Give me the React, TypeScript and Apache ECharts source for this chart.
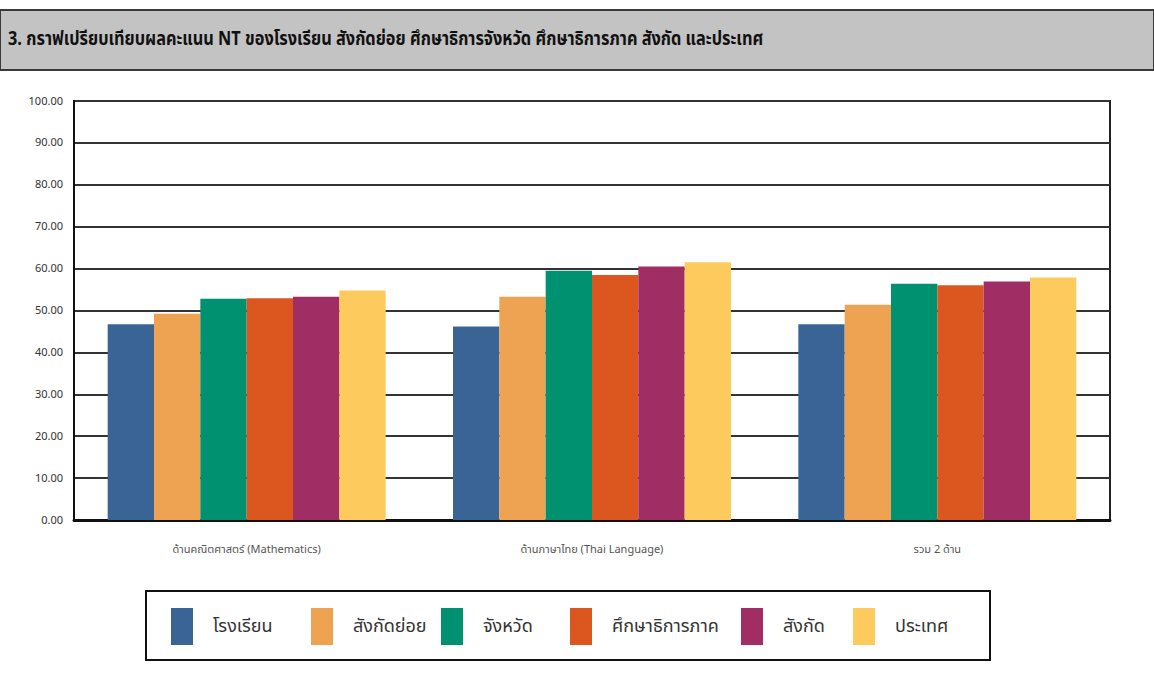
import React, { useEffect, useRef } from "react";
import * as echarts from "echarts";

const title =
  "3. กราฟเปรียบเทียบผลคะแนน NT ของโรงเรียน สังกัดย่อย ศึกษาธิการจังหวัด ศึกษาธิการภาค สังกัด และประเทศ";
const categories = ["ด้านคณิตศาสตร์ (Mathematics)", "ด้านภาษาไทย (Thai Language)", "รวม 2 ด้าน"];
const seriesNames = ["โรงเรียน", "สังกัดย่อย", "จังหวัด", "ศึกษาธิการภาค", "สังกัด", "ประเทศ"];
const school = [46.7, 46.2, 46.7];
const subAffil = [49.2, 53.3, 51.4];
const province = [52.8, 59.5, 56.4];
const region = [52.9, 58.5, 56.0];
const affil = [53.3, 60.5, 56.9];
const country = [54.8, 61.5, 57.9];
const seriesValues = [school, subAffil, province, region, affil, country];
const colors = ["#3a6496", "#eea353", "#009170", "#dc5720", "#a02d63", "#fdcb5d"];
const legendLefts = [171, 311, 441, 570, 741, 853];

const FONT = "'Liberation Sans Narrow', 'Noto Sans Thai', 'Noto Sans', sans-serif";

export default function App() {
  const ref = useRef<HTMLDivElement>(null);
  useEffect(() => {
    if (!ref.current) return;
    const chart = echarts.init(ref.current, undefined, { renderer: "svg" });
    chart.setOption({
      animation: false,
      backgroundColor: "#ffffff",
      textStyle: { fontFamily: FONT },
      grid: {
        left: 74,
        right: 44,
        top: 101,
        bottom: 155,
        show: true,
        borderColor: "#222",
        borderWidth: 2,
        backgroundColor: "transparent",
      },
      xAxis: {
        type: "category",
        data: categories,
        axisLine: { lineStyle: { color: "#111", width: 3 } },
        axisTick: { show: false },
        axisLabel: { color: "#555", fontSize: 11, margin: 24, fontFamily: FONT },
      },
      yAxis: {
        type: "value",
        min: 0,
        max: 100,
        interval: 10,
        axisLine: { show: true, lineStyle: { color: "#111", width: 2 } },
        axisTick: { show: false },
        axisLabel: {
          color: "#333",
          fontSize: 11,
          margin: 11,
          fontFamily: FONT,
          formatter: (v: number) => v.toFixed(2),
        },
        splitLine: { lineStyle: { color: "#333", width: 2 } },
      },
      legend: seriesNames.map((n, i) => ({
        data: [n],
        left: legendLefts[i],
        top: 608,
        padding: 0,
        icon: "rect",
        itemWidth: 22,
        itemHeight: 37,
        selectedMode: false,
        textStyle: { fontSize: 18, color: "#333", fontFamily: FONT, padding: [0, 0, 0, 15] },
      })),
      graphic: [
        {
          type: "rect",
          shape: { x: 0, y: 10, width: 1154, height: 60 },
          style: { fill: "#c3c3c3", stroke: "#3a3a3a", lineWidth: 2 },
          z: 1,
        },
        {
          type: "text",
          x: 8,
          y: 39,
          scaleX: 0.86,
          style: {
            text: title,
            font: `bold 19px ${FONT}`,
            fill: "#111",
            verticalAlign: "middle",
          },
          z: 2,
        },
        {
          type: "rect",
          shape: { x: 146, y: 591, width: 844, height: 69 },
          style: { fill: "none", stroke: "#111", lineWidth: 2 },
          z: 1,
        },
      ],
      series: seriesNames.map((n, i) => ({
        name: n,
        type: "bar",
        data: seriesValues[i],
        itemStyle: { color: colors[i] },
        barGap: "0%",
        barCategoryGap: "19.5%",
      })),
    });
    return () => chart.dispose();
  }, []);
  return (
    <div
      ref={ref}
      style={{ position: "fixed", left: 0, top: 0, width: 1154, height: 675 }}
    />
  );
}
